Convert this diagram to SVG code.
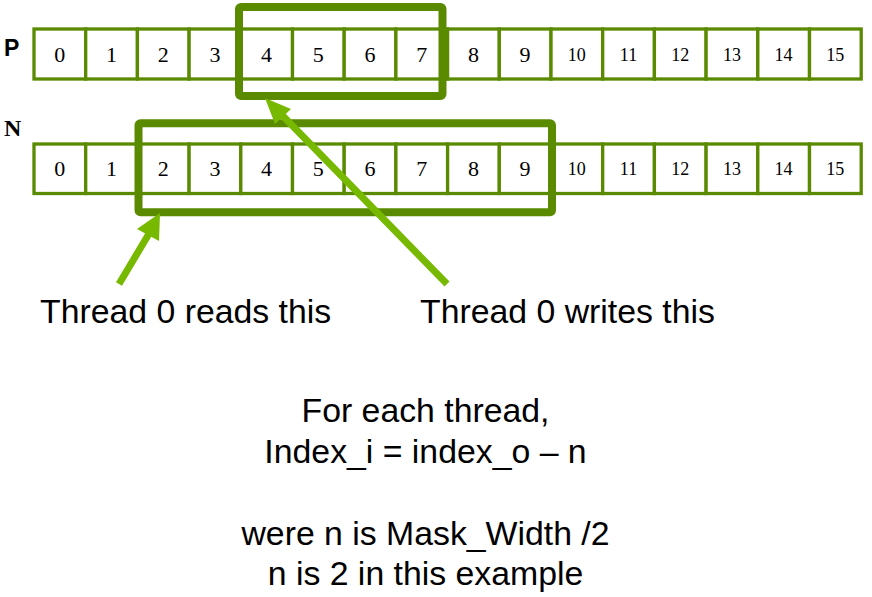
<svg xmlns="http://www.w3.org/2000/svg" width="872" height="597" viewBox="0 0 872 597">
<style>
.cell{fill:#fff;stroke:#5a8a00;stroke-width:3.3}
.num{font-family:"Liberation Serif",serif;font-size:22px;fill:#000;text-anchor:middle}
.num2{font-family:"Liberation Serif",serif;font-size:18px;fill:#000;text-anchor:middle}
.hl{fill:none;stroke:#5a8a00;stroke-width:8;stroke-linejoin:round}
.arr{stroke:#76b900;stroke-width:7;fill:none}
.head{fill:#76b900}
.lbl{font-family:"Liberation Sans",Arial,sans-serif;font-size:33.8px;fill:#000}
</style>
<rect width="872" height="597" fill="#fff"/>
<text x="4" y="56" font-family="Liberation Sans,Arial,sans-serif" font-weight="bold" font-size="23" fill="#000">P</text>
<text x="4" y="136" font-family="Liberation Serif,serif" font-weight="bold" font-size="24" fill="#000">N</text>
<g id="rowP">
<rect class="cell" x="34" y="29" width="51.7" height="50"/><text class="num" x="59.8" y="62">0</text>
<rect class="cell" x="85.7" y="29" width="51.7" height="50"/><text class="num" x="111.5" y="62">1</text>
<rect class="cell" x="137.4" y="29" width="51.7" height="50"/><text class="num" x="163.2" y="62">2</text>
<rect class="cell" x="189.1" y="29" width="51.7" height="50"/><text class="num" x="214.9" y="62">3</text>
<rect class="cell" x="240.8" y="29" width="51.7" height="50"/><text class="num" x="266.6" y="62">4</text>
<rect class="cell" x="292.5" y="29" width="51.7" height="50"/><text class="num" x="318.3" y="62">5</text>
<rect class="cell" x="344.2" y="29" width="51.7" height="50"/><text class="num" x="370" y="62">6</text>
<rect class="cell" x="395.9" y="29" width="51.7" height="50"/><text class="num" x="421.7" y="62">7</text>
<rect class="cell" x="447.6" y="29" width="51.7" height="50"/><text class="num" x="473.4" y="62">8</text>
<rect class="cell" x="499.3" y="29" width="51.7" height="50"/><text class="num" x="525.1" y="62">9</text>
<rect class="cell" x="551" y="29" width="51.7" height="50"/><text class="num2" x="576.8" y="61">10</text>
<rect class="cell" x="602.7" y="29" width="51.7" height="50"/><text class="num2" x="628.5" y="61">11</text>
<rect class="cell" x="654.4" y="29" width="51.7" height="50"/><text class="num2" x="680.2" y="61">12</text>
<rect class="cell" x="706.1" y="29" width="51.7" height="50"/><text class="num2" x="731.9" y="61">13</text>
<rect class="cell" x="757.8" y="29" width="51.7" height="50"/><text class="num2" x="783.6" y="61">14</text>
<rect class="cell" x="809.5" y="29" width="51.7" height="50"/><text class="num2" x="835.3" y="61">15</text>
</g>
<g id="rowN">
<rect class="cell" x="34" y="144" width="51.7" height="49.5"/><text class="num" x="59.8" y="176">0</text>
<rect class="cell" x="85.7" y="144" width="51.7" height="49.5"/><text class="num" x="111.5" y="176">1</text>
<rect class="cell" x="137.4" y="144" width="51.7" height="49.5"/><text class="num" x="163.2" y="176">2</text>
<rect class="cell" x="189.1" y="144" width="51.7" height="49.5"/><text class="num" x="214.9" y="176">3</text>
<rect class="cell" x="240.8" y="144" width="51.7" height="49.5"/><text class="num" x="266.6" y="176">4</text>
<rect class="cell" x="292.5" y="144" width="51.7" height="49.5"/><text class="num" x="318.3" y="176">5</text>
<rect class="cell" x="344.2" y="144" width="51.7" height="49.5"/><text class="num" x="370" y="176">6</text>
<rect class="cell" x="395.9" y="144" width="51.7" height="49.5"/><text class="num" x="421.7" y="176">7</text>
<rect class="cell" x="447.6" y="144" width="51.7" height="49.5"/><text class="num" x="473.4" y="176">8</text>
<rect class="cell" x="499.3" y="144" width="51.7" height="49.5"/><text class="num" x="525.1" y="176">9</text>
<rect class="cell" x="551" y="144" width="51.7" height="49.5"/><text class="num2" x="576.8" y="175">10</text>
<rect class="cell" x="602.7" y="144" width="51.7" height="49.5"/><text class="num2" x="628.5" y="175">11</text>
<rect class="cell" x="654.4" y="144" width="51.7" height="49.5"/><text class="num2" x="680.2" y="175">12</text>
<rect class="cell" x="706.1" y="144" width="51.7" height="49.5"/><text class="num2" x="731.9" y="175">13</text>
<rect class="cell" x="757.8" y="144" width="51.7" height="49.5"/><text class="num2" x="783.6" y="175">14</text>
<rect class="cell" x="809.5" y="144" width="51.7" height="49.5"/><text class="num2" x="835.3" y="175">15</text>
</g>
<g id="highlightP"><rect class="hl" x="239" y="7" width="203.5" height="89" rx="2"/></g>
<g id="highlightN"><rect class="hl" x="138.5" y="123.3" width="413.5" height="89" rx="2"/></g>
<g id="connectors">
<line class="arr" x1="119" y1="284" x2="150" y2="232"/>
<polygon class="head" points="160,213 137,229 159,241"/>
<line class="arr" x1="447" y1="284" x2="281" y2="114"/>
<polygon class="head" points="265,98 291,109 275,124"/>
</g>
<g id="labels">
<text class="lbl" x="40" y="323">Thread 0 reads this</text>
<text class="lbl" x="420" y="323">Thread 0 writes this</text>
<text class="lbl" x="425.5" y="422" text-anchor="middle">For each thread,</text>
<text class="lbl" x="425.5" y="463" text-anchor="middle">Index_i = index_o – n</text>
<text class="lbl" x="425.5" y="545" text-anchor="middle">were n is Mask_Width /2</text>
<text class="lbl" x="425.5" y="585" text-anchor="middle">n is 2 in this example</text>
</g>
</svg>
